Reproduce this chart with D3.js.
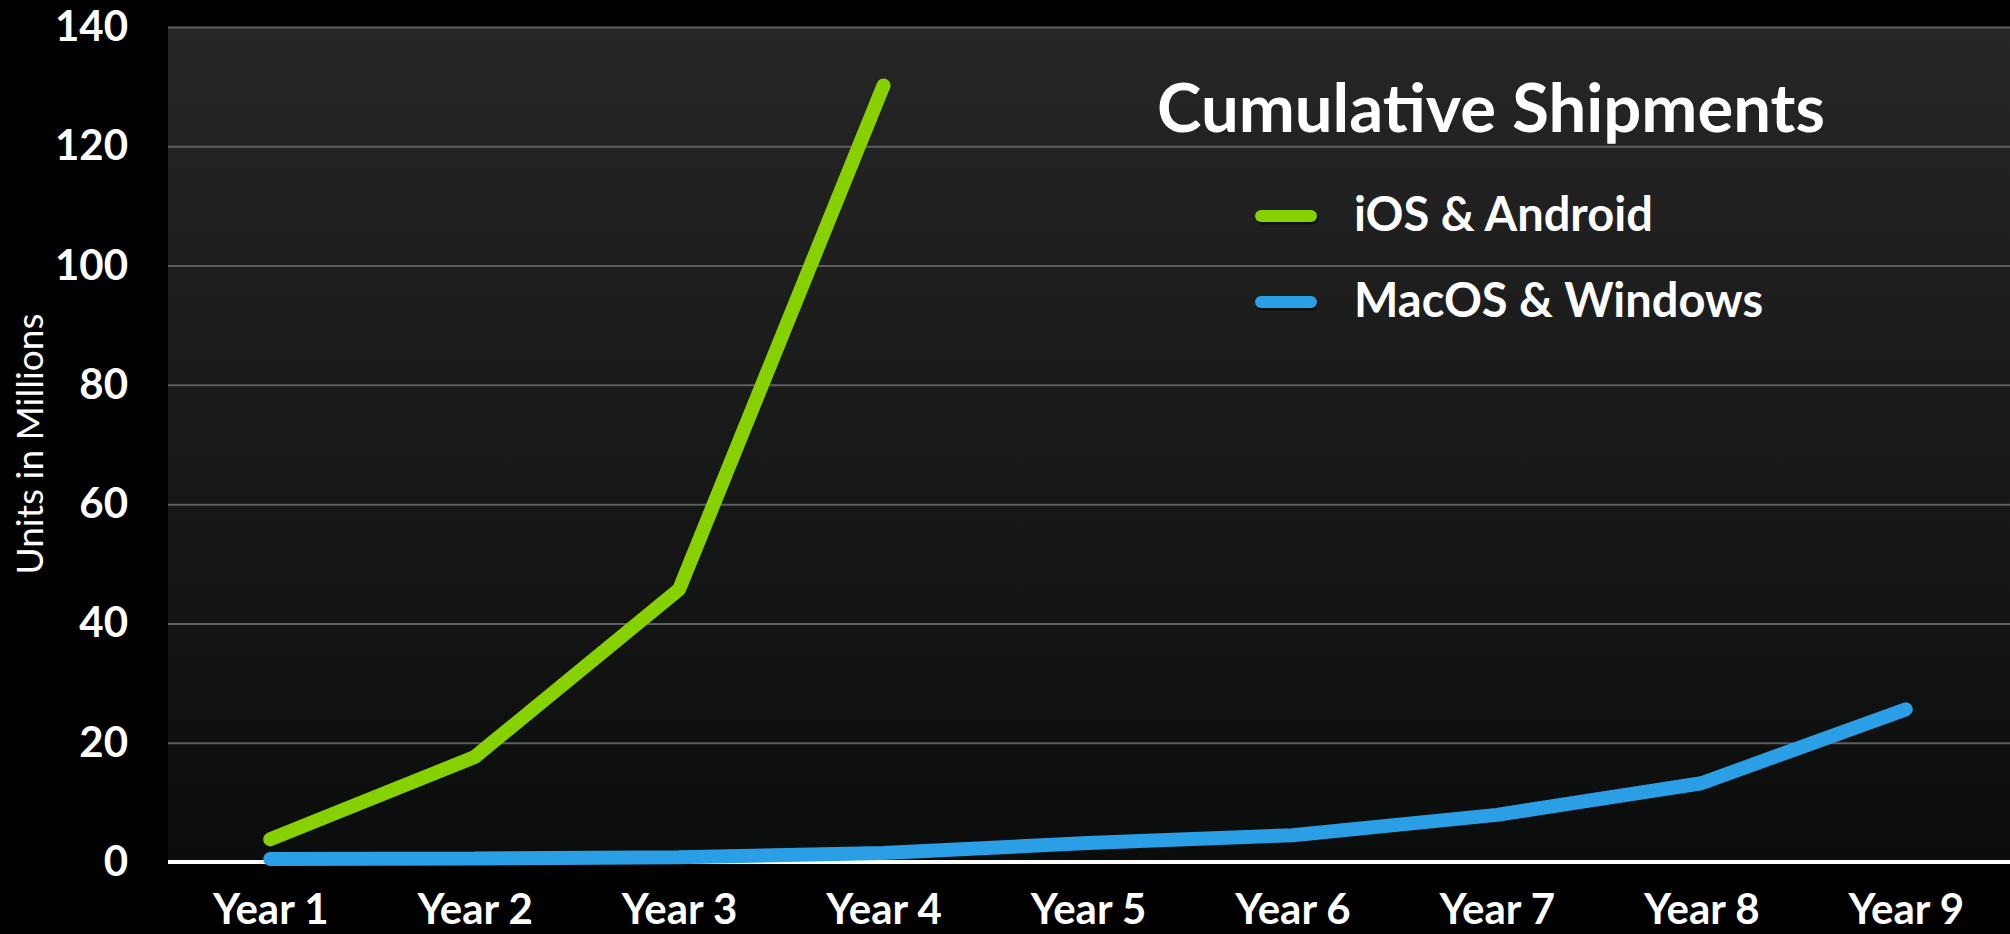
<!DOCTYPE html>
<html>
<head>
<meta charset="utf-8">
<script src="https://cdn.jsdelivr.net/npm/d3@7"></script>
<style>
  html, body { margin: 0; padding: 0; background: #000; }
  svg { display: block; }
  text { font-family: Lato, "Open Sans", sans-serif; fill: #fff; }
</style>
</head>
<body>
<svg id="chart" width="2010" height="934"></svg>
<script>
// data
var years = ["Year 1", "Year 2", "Year 3", "Year 4", "Year 5", "Year 6", "Year 7", "Year 8", "Year 9"];
var mobile = [3.8, 17.6, 45.7, 130.2]; // iOS & Android
var desktop = [0.5, 0.6, 0.8, 1.5, 3.2, 4.5, 7.9, 13.2, 25.6]; // MacOS & Windows
var yTicks = [0, 20, 40, 60, 80, 100, 120, 140];
var seriesNames = ["iOS & Android", "MacOS & Windows"];
var seriesColors = ["#88d100", "#2b9fe5"];

var frameWidth = 2010,
  frameHeight = 934;
var margin = { top: 27, right: 2, bottom: 72, left: 168 },
  width = frameWidth - margin.left - margin.right,
  height = frameHeight - margin.top - margin.bottom;

var svg = d3.select("#chart");

var defs = svg.append("defs");
var grad = defs
  .append("linearGradient")
  .attr("id", "bgGrad")
  .attr("x1", 0)
  .attr("y1", 0)
  .attr("x2", 0)
  .attr("y2", 1);
grad.append("stop").attr("offset", "0%").attr("stop-color", "#262626");
grad.append("stop").attr("offset", "100%").attr("stop-color", "#0b0c0c");

var g = svg.append("g").attr("transform", `translate(${margin.left},${margin.top})`);

// plot background
g.append("rect")
  .attr("width", width + margin.right)
  .attr("height", height)
  .attr("fill", "url(#bgGrad)");

var xScale = d3.scalePoint().domain(years).range([0, width]).padding(0.5);
var yScale = d3.scaleLinear().domain([0, 140]).range([height, 0]);

// y axis with gridlines
var yAxis = g
  .append("g")
  .attr("class", "yAxis")
  .call(d3.axisLeft(yScale).tickValues(yTicks).tickSize(-width - margin.right).tickPadding(40));
yAxis.select(".domain").remove();
yAxis.selectAll(".tick line").attr("stroke", "#5e5e5e").attr("stroke-width", 2);
yAxis
  .selectAll(".tick text")
  .style("font-size", "42px")
  .style("font-weight", "bold")
  .attr("fill", "#fff");
yAxis.selectAll(".tick").filter(function (d) { return d === 0; }).select("line").remove();

// x axis labels
var xAxis = g
  .append("g")
  .attr("class", "xAxis")
  .attr("transform", `translate(0,${height})`)
  .call(d3.axisBottom(xScale).tickSize(0).tickPadding(32));
xAxis.select(".domain").remove();
xAxis
  .selectAll(".tick text")
  .style("font-size", "42px")
  .style("font-weight", "bold")
  .attr("fill", "#fff");

// zero baseline
g.append("line")
  .attr("x1", 0)
  .attr("x2", width + margin.right)
  .attr("y1", yScale(0))
  .attr("y2", yScale(0))
  .attr("stroke", "#fff")
  .attr("stroke-width", 4);

var line = d3
  .line()
  .x(function (d, i) { return xScale(years[i]); })
  .y(function (d) { return yScale(d); });

[mobile, desktop].forEach(function (s, i) {
  g.append("path")
    .datum(s)
    .attr("d", line)
    .attr("fill", "none")
    .attr("stroke", seriesColors[i])
    .attr("stroke-width", 14)
    .attr("stroke-linecap", "round")
    .attr("stroke-linejoin", "bevel");
});

// title and legend
svg.append("text")
  .attr("x", 1491)
  .attr("y", 132)
  .attr("text-anchor", "middle")
  .style("font-size", "67px")
  .style("font-weight", "bold")
  .text("Cumulative Shipments");

var legend = svg
  .append("g")
  .attr("class", "colorLegend")
  .selectAll("g")
  .data(seriesNames)
  .enter()
  .append("g")
  .attr("transform", function (d, i) {
    return `translate(1255, ${216 + i * 86})`;
  });

// soft shadow under the swatch
legend
  .append("line")
  .attr("x1", 7)
  .attr("x2", 57)
  .attr("y1", 2)
  .attr("y2", 2)
  .attr("stroke", "#000")
  .attr("stroke-opacity", 0.5)
  .attr("stroke-width", 13)
  .attr("stroke-linecap", "round");

legend
  .append("line")
  .attr("x1", 6)
  .attr("x2", 56)
  .attr("y1", 0)
  .attr("y2", 0)
  .attr("stroke", function (d, i) { return seriesColors[i]; })
  .attr("stroke-width", 12)
  .attr("stroke-linecap", "round");

legend
  .append("text")
  .attr("x", 99)
  .attr("y", 15)
  .style("font-size", "47px")
  .style("font-weight", "bold")
  .text(function (d) { return d; });

// y axis title
svg.append("text")
  .attr("transform", "translate(43,444) rotate(-90)")
  .attr("text-anchor", "middle")
  .style("font-size", "37px")
  .text("Units in Millions");
</script>
</body>
</html>
